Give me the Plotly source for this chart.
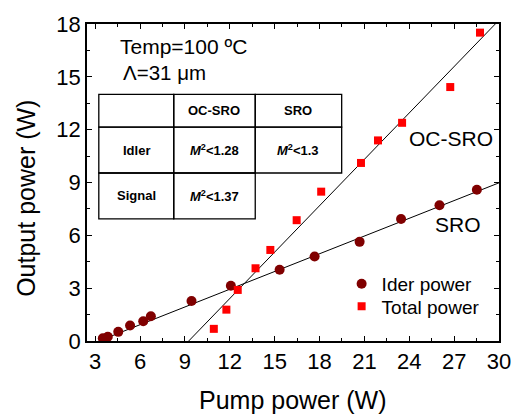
import numpy as np
import plotly.graph_objects as go

# ---- data ----
idler_pump = [3.51, 3.84, 4.54, 5.33, 6.21, 6.72, 9.44, 12.07, 15.33, 17.67, 20.68, 23.45, 26.02, 28.52]
idler_power = [0.15, 0.24, 0.52, 0.88, 1.12, 1.41, 2.27, 3.14, 4.05, 4.80, 5.63, 6.93, 7.71, 8.59]

total_pump = [10.93, 11.77, 12.53, 13.72, 14.71, 16.47, 18.11, 20.77, 21.91, 23.52, 26.74, 28.73]
total_power = [0.69, 1.78, 2.90, 4.13, 5.17, 6.86, 8.48, 10.11, 11.39, 12.39, 14.42, 17.51]

# linear fits (threshold pump power, slope efficiency)
sro_threshold, sro_slope = 3.24, 0.3356
oc_threshold, oc_slope = 9.25, 0.878

x_ticks = [3, 6, 9, 12, 15, 18, 21, 24, 27, 30]
y_ticks = [0, 3, 6, 9, 12, 15, 18]

table_cols = ["", "OC-SRO", "SRO"]
table_rows = [["Idler", "M2<1.28", "M2<1.3"], ["Signal", "M2<1.37"]]

FONT = "Liberation Sans, Arial, sans-serif"

fig = go.Figure()

x_end = 30
sx = np.array([sro_threshold, x_end])
fig.add_trace(go.Scatter(x=sx, y=sro_slope * (sx - sro_threshold), mode="lines",
                         line=dict(color="black", width=1), showlegend=False, hoverinfo="skip"))
ox = np.array([oc_threshold, x_end])
fig.add_trace(go.Scatter(x=ox, y=oc_slope * (ox - oc_threshold), mode="lines",
                         line=dict(color="black", width=1), showlegend=False, hoverinfo="skip"))

fig.add_trace(go.Scatter(x=idler_pump, y=idler_power, mode="markers", name="Ider power",
                         legend="legend",
                         marker=dict(symbol="circle", size=10, color="#800000")))
fig.add_trace(go.Scatter(x=total_pump, y=total_power, mode="markers", name="Total power",
                         legend="legend2",
                         marker=dict(symbol="square", size=8, color="#ff0000")))

# ---- table drawn as shapes ----
tx = [3.24, 8.25, 13.70, 19.48]
ty = [14.0, 12.14, 9.54, 6.93]
lw = 1.3
shapes = []
for r in range(2):
    for c in range(3):
        shapes.append(dict(type="rect", xref="x", yref="y", x0=tx[c], x1=tx[c + 1],
                           y0=ty[r + 1], y1=ty[r], line=dict(color="black", width=lw)))
for c in range(2):
    shapes.append(dict(type="rect", xref="x", yref="y", x0=tx[c], x1=tx[c + 1],
                       y0=ty[3], y1=ty[2], line=dict(color="black", width=lw)))


def cell_text(s):
    if s.startswith("M2"):
        return "<b><i>M</i><sup>2</sup>&lt;" + s[3:] + "</b>"
    return "<b>" + s + "</b>"


annotations = []
for c, s in enumerate(table_cols):
    if s:
        annotations.append(dict(x=(tx[c] + tx[c + 1]) / 2, y=(ty[0] + ty[1]) / 2, text=cell_text(s),
                                showarrow=False, font=dict(family=FONT, size=13, color="black")))
for r, row in enumerate(table_rows):
    for c, s in enumerate(row):
        annotations.append(dict(x=(tx[c] + tx[c + 1]) / 2, y=(ty[r + 1] + ty[r + 2]) / 2,
                                text=cell_text(s), showarrow=False,
                                font=dict(family=FONT, size=13, color="black")))

annotations += [
    dict(x=4.5, y=16.75, text="Temp=100 ºC", xanchor="left", showarrow=False,
         font=dict(family=FONT, size=21, color="black")),
    dict(x=4.72, y=15.25, text="Λ=31 μm", xanchor="left", showarrow=False,
         font=dict(family=FONT, size=20.5, color="black")),
    dict(x=26.8, y=11.49, text="OC-SRO", showarrow=False,
         font=dict(family=FONT, size=21, color="black")),
    dict(x=27.27, y=6.64, text="SRO", showarrow=False,
         font=dict(family=FONT, size=21, color="black")),
    dict(xref="paper", yref="paper", x=0.5, y=-0.185, yanchor="middle", text="Pump power (W)",
         showarrow=False, font=dict(family=FONT, size=25, color="black")),
    dict(xref="paper", yref="paper", x=-0.15, y=0.449, xanchor="center", yanchor="middle",
         text="Output power (W)", textangle=-90, showarrow=False,
         font=dict(family=FONT, size=25, color="black")),
]

axis_common = dict(showline=True, linecolor="black", linewidth=1.5, mirror="ticks",
                   ticks="inside", ticklen=5, tickwidth=1, tickcolor="black",
                   showgrid=False, zeroline=False,
                   tickfont=dict(family=FONT, size=22, color="black"))

legend_font = dict(family=FONT, size=19, color="black")

fig.update_layout(
    width=523, height=418,
    margin=dict(l=87, r=17, t=18, b=77),
    paper_bgcolor="white", plot_bgcolor="white",
    xaxis=dict(range=[2.45, 30], tickvals=x_ticks,
               minor=dict(dtick=1.5, tick0=0, ticks="inside", ticklen=3, tickcolor="black"),
               **axis_common),
    yaxis=dict(range=[0, 18], tickvals=y_ticks,
               minor=dict(dtick=1.5, tick0=0, ticks="inside", ticklen=3, tickcolor="black"),
               **axis_common),
    legend=dict(x=0.618, y=0.18, xanchor="left", yanchor="middle", bgcolor="rgba(0,0,0,0)",
                font=legend_font),
    legend2=dict(x=0.618, y=0.109, xanchor="left", yanchor="middle", bgcolor="rgba(0,0,0,0)",
                 font=legend_font),
    shapes=shapes,
    annotations=annotations,
)

fig.write_html("out.html", config={"displayModeBar": False},
               post_script="document.body.style.margin='0';document.body.style.overflow='hidden';")
